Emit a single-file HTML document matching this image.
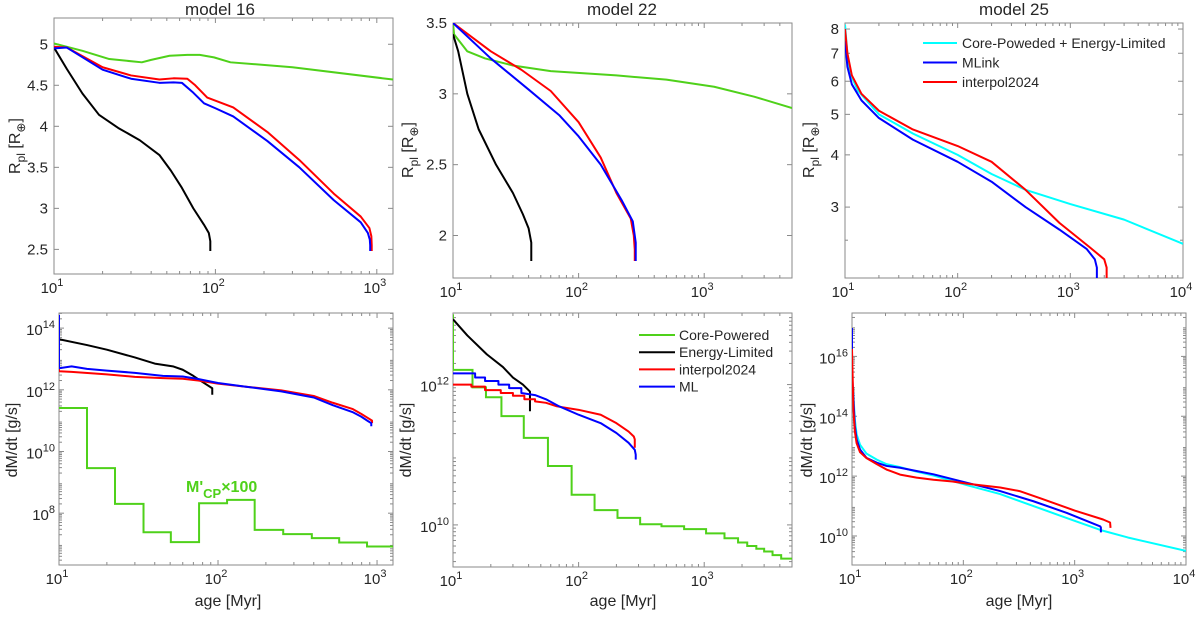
<!DOCTYPE html>
<html><head><meta charset="utf-8">
<style>
html,body{margin:0;padding:0;background:#fff;}
svg{display:block;font-family:"Liberation Sans",Arial,sans-serif;}
</style></head>
<body>
<svg id="fig" width="1200" height="619" viewBox="0 0 1200 619" xmlns="http://www.w3.org/2000/svg"></svg>
<script>
// ---------- DATA ----------
const p1GreenX=[10,15,22,35,40,52,67,80,98,124,300,1260];
const p1GreenY=[5.01,4.92,4.82,4.78,4.81,4.86,4.87,4.87,4.84,4.78,4.72,4.57];
const p1RedX=[10,12,20,30,45,55,67,75,89,129,210,331,541,795,900,925,930,930];
const p1RedY=[4.97,4.96,4.72,4.62,4.57,4.585,4.58,4.5,4.35,4.23,3.93,3.59,3.18,2.9,2.76,2.66,2.55,2.48];
const p1BlueX=[10,12,20,30,45,55,62,72,85,100,129,210,331,541,795,880,905,910,910];
const p1BlueY=[4.95,4.96,4.69,4.58,4.53,4.535,4.53,4.42,4.28,4.22,4.12,3.82,3.5,3.1,2.83,2.7,2.62,2.55,2.48];
const p1BlackX=[10,12,15,19,25,34,45,53,62,73,85,91,93,93];
const p1BlackY=[4.96,4.7,4.4,4.14,3.98,3.83,3.65,3.46,3.25,3.0,2.8,2.7,2.6,2.48];
const p2GreenX=[10,10.2,13,18,30,60,200,500,1200,2500,5000];
const p2GreenY=[3.5,3.42,3.3,3.25,3.2,3.16,3.13,3.1,3.05,2.98,2.9];
const p2RedX=[10,20,35,60,100,150,200,260,275,280,280];
const p2RedY=[3.5,3.3,3.17,3.02,2.8,2.55,2.3,2.12,2.0,1.9,1.82];
const p2BlueX=[10,20,40,70,100,150,220,270,285,285];
const p2BlueY=[3.5,3.25,3.03,2.85,2.7,2.5,2.25,2.1,1.95,1.82];
const p2BlackX=[10,11,13,16,22,30,36,40,42,42];
const p2BlackY=[3.42,3.3,3.0,2.75,2.5,2.3,2.15,2.05,1.95,1.82];
const p3CyanX=[10,10.5,11,13,20,40,100,200,400,1000,3000,10000];
const p3CyanY=[8.2,7.0,6.3,5.7,5.0,4.5,4.0,3.6,3.3,3.05,2.8,2.45];
const p3RedX=[10,10.5,11.5,14,20,40,100,200,400,800,1500,2000,2100,2100];
const p3RedY=[8.0,7.0,6.2,5.6,5.1,4.6,4.2,3.85,3.3,2.75,2.4,2.25,2.15,2.03];
const p3BlueX=[10,10.5,11.5,14,20,40,100,200,400,800,1400,1650,1720,1720];
const p3BlueY=[7.5,6.5,5.9,5.4,4.9,4.35,3.85,3.45,3.0,2.65,2.38,2.25,2.15,2.03];
const p4BlueX=[10,10,12,15,20,30,45,60,75,100,150,250,400,527,700,795,880,920,920];
const p4BlueY=[14.43,12.70,12.76,12.68,12.62,12.55,12.45,12.43,12.35,12.22,12.1,11.95,11.75,11.5,11.28,11.13,10.98,10.92,10.82];
const p4RedX=[10,10,12,20,30,45,60,75,100,150,250,400,527,700,795,880,930,930];
const p4RedY=[13.8,12.6,12.58,12.5,12.42,12.38,12.36,12.3,12.2,12.1,11.98,11.8,11.58,11.38,11.22,11.08,11.0,10.92];
const p4BlackX=[10,15,20,30,40,52,60,70,80,92,92];
const p4BlackY=[13.64,13.45,13.3,13.05,12.85,12.76,12.65,12.45,12.25,12.05,11.84];
const p4GreenEdges=[10,15,22.5,34,50.5,76,114,170,257,389,578,865,1260];
const p4GreenVals=[11.41,9.46,8.30,7.38,7.06,8.32,8.43,7.46,7.32,7.19,7.05,6.92];
const p5BlackX=[10,13,18.6,25,30,36,41,41];
const p5BlackY=[12.93,12.7,12.43,12.25,12.1,12.0,11.9,11.62];
const p5RedX=[10,14,14,18,18,24,24,30,30,37,37,45,45,55,67,100,150,200,250,275,280,280];
const p5RedY=[12.0,12.0,11.97,11.97,11.92,11.92,11.88,11.88,11.84,11.84,11.79,11.79,11.76,11.74,11.69,11.64,11.57,11.45,11.33,11.26,11.22,11.1];
const p5BlueX=[10,15,15,18,18,23,23,28,28,35,35,45,55,70,100,150,200,250,280,285,285];
const p5BlueY=[12.16,12.16,12.10,12.10,12.05,12.05,12.0,12.0,11.95,11.95,11.88,11.85,11.79,11.69,11.57,11.45,11.31,11.17,11.07,11.0,10.93];
const p5GreenStart=[13.0];
const p5GreenEdges=[10,14.3,18.3,24.3,36.6,57,88,134,204,309,457,692,1035,1450,1860,2200,2600,3000,3500,4100,5000];
const p5GreenVals=[12.21,11.96,11.82,11.55,11.24,10.84,10.43,10.21,10.10,10.01,9.98,9.94,9.88,9.81,9.75,9.70,9.66,9.62,9.57,9.52];
const p6CyanX=[10,10.3,10.6,11,11.8,13.5,16.7,20.4,27,38,54,107,214,426,850,1700,3000,10000];
const p6CyanY=[15.0,14.7,13.9,13.4,13.05,12.75,12.55,12.4,12.3,12.15,12.02,11.7,11.4,11.0,10.6,10.2,9.95,9.5];
const p6BlueX=[10,10,10.3,10.6,11,11.8,13.5,16.7,20.4,27,38,54,107,214,426,850,1700,1720,1720];
const p6BlueY=[16.95,15.5,14.57,13.68,13.23,12.89,12.61,12.45,12.34,12.28,12.17,12.06,11.78,11.5,11.16,10.77,10.32,10.28,10.12];
const p6RedX=[10,10.3,10.6,11,11.8,13.5,16.7,20.4,27,38,54,80,107,214,320,500,1000,1800,2080,2100];
const p6RedY=[16.25,14.2,13.5,13.1,12.8,12.6,12.4,12.22,12.05,11.95,11.88,11.82,11.75,11.62,11.5,11.25,10.85,10.55,10.45,10.27];
const linTicks1=[2.5,3,3.5,4,4.5,5];
const linTicks2=[2,2.5,3,3.5];
const logRTicks3=[3,4,5,6,7,8];
const expTicks4=[8,10,12,14];
const expTicks5=[10,12];
const expTicks6=[10,12,14,16];
const titles=["model 16","model 22","model 25"];
const legend3Labels=["Core-Poweded + Energy-Limited","MLink","interpol2024"];
const legend5Labels=["Core-Powered","Energy-Limited","interpol2024","ML"];

// ---------- RENDER ----------
const NS="http://www.w3.org/2000/svg";
const svg=document.getElementById('fig');
const C={green:"#4fd11a",red:"#ff0000",blue:"#0000ff",black:"#000000",cyan:"#00ffff"};
function mk(tag,attrs,parent){const e=document.createElementNS(NS,tag);for(const k in attrs)e.setAttribute(k,attrs[k]);(parent||svg).appendChild(e);return e;}

function makePanel(b){
  const lx0=Math.log10(b.x0),lx1=Math.log10(b.x1);
  const sx=v=>b.l+(Math.log10(v)-lx0)/(lx1-lx0)*(b.r-b.l);
  let sy;
  if(b.ytype==='logR'){const a=Math.log10(b.y0),c=Math.log10(b.y1);sy=v=>b.bm-(Math.log10(v)-a)/(c-a)*(b.bm-b.t);}
  else sy=v=>b.bm-(v-b.y0)/(b.y1-b.y0)*(b.bm-b.t);
  const g=mk('g',{});
  
  
  const clipId='clip_'+b.name;
  const cp=mk('clipPath',{id:clipId},g);mk('rect',{x:b.l,y:b.t,width:b.r-b.l,height:b.bm-b.t},cp);
  return {g,sx,sy,b,clipId};
}
function axes(P,xTickExps,yTicks,yFmt,minorY){
  const {g,sx,sy,b}=P;
  const ax=mk('g',{},g);
  
  
  const box=mk('rect',{x:b.l,y:b.t,width:b.r-b.l,height:b.bm-b.t,fill:'none',stroke:'#8a8a8a','stroke-width':1},ax);
  
  
  const e0=Math.floor(Math.log10(b.x0)),e1=Math.ceil(Math.log10(b.x1));
  for(let e=e0;e<=e1;e++){for(let m=1;m<10;m++){const v=m*Math.pow(10,e);if(v<b.x0-1e-9||v>b.x1+1e-9)continue;const x=sx(v);const L=m===1?5:3;
    mk('line',{x1:x,x2:x,y1:b.bm,y2:b.bm-L,stroke:'#8a8a8a'},ax);mk('line',{x1:x,x2:x,y1:b.t,y2:b.t+L,stroke:'#8a8a8a'},ax);}}
  xTickExps.forEach(e=>{const x=sx(Math.pow(10,e));const t=mk('text',{x:x-2,y:b.bm+19,'text-anchor':'middle','font-size':15,fill:'#262626'},ax);
    
    t.appendChild(document.createTextNode('10'));const s=mk('tspan',{dy:-7,'font-size':11},t);s.textContent=String(e);});
  if(minorY) minorY.forEach(v=>{const y=sy(v);mk('line',{x1:b.l,x2:b.l+3,y1:y,y2:y,stroke:'#8a8a8a'},ax);mk('line',{x1:b.r,x2:b.r-3,y1:y,y2:y,stroke:'#8a8a8a'},ax);});
  yTicks.forEach(v=>{const y=sy(v);mk('line',{x1:b.l,x2:b.l+5,y1:y,y2:y,stroke:'#8a8a8a'},ax);mk('line',{x1:b.r,x2:b.r-5,y1:y,y2:y,stroke:'#8a8a8a'},ax);
    const t=mk('text',{x:b.l-6,y:y+5,'text-anchor':'end','font-size':15,fill:'#262626'},ax);
    
    if(yFmt==='exp'){t.setAttribute('x',b.l-4);t.setAttribute('y',y+7);t.appendChild(document.createTextNode('10'));const s=mk('tspan',{dy:-7,'font-size':11},t);s.textContent=String(v);}
    else t.textContent=String(v);});
}
function line(P,xs,ys,color,name){
  const d=xs.map((x,i)=>(i?'L':'M')+P.sx(x).toFixed(2)+','+P.sy(ys[i]).toFixed(2)).join('');
  const p=mk('path',{d,fill:'none',stroke:color,'stroke-width':2,'clip-path':'url(#'+P.clipId+')','stroke-linejoin':'round'},P.g);
  
  
}
function step(P,edges,vals,color,name,start){
  let d='';
  if(start!==undefined) d='M'+P.sx(edges[0]).toFixed(2)+','+P.sy(start).toFixed(2)+'L';else d='M';
  d+=P.sx(edges[0]).toFixed(2)+','+P.sy(vals[0]).toFixed(2);
  for(let i=0;i<vals.length;i++){d+='L'+P.sx(edges[i+1]).toFixed(2)+','+P.sy(vals[i]).toFixed(2);
    if(i+1<vals.length)d+='L'+P.sx(edges[i+1]).toFixed(2)+','+P.sy(vals[i+1]).toFixed(2);}
  const p=mk('path',{d,fill:'none',stroke:color,'stroke-width':2,'clip-path':'url(#'+P.clipId+')'},P.g);
  
  
}
function text(x,y,str,attrs,name){const t=mk('text',Object.assign({x,y,fill:'#262626'},attrs));t.textContent=str;
  return t;}
function ylabelR(x,y){const t=mk('text',{x:0,y:0,'font-size':16,fill:'#262626','text-anchor':'middle',transform:`translate(${x},${y}) rotate(-90)`});
  
  t.appendChild(document.createTextNode('R'));let s=mk('tspan',{dy:5,'font-size':12},t);s.textContent='pl';
  s=mk('tspan',{dy:-5},t);s.textContent=' [R';s=mk('tspan',{dy:5,'font-size':12},t);s.textContent='⊕';s=mk('tspan',{dy:-5},t);s.textContent=']';}
function minorLog(a,b){const out=[];for(let e=Math.floor(a);e<b;e++)for(let m=2;m<10;m++){const v=e+Math.log10(m);if(v>a&&v<b)out.push(v);}return out;}

[220,622,1014].forEach((x,i)=>text(x,15,titles[i],{'text-anchor':'middle','font-size':17},'panel-title'));

const P1=makePanel({name:'panel-model16-radius',l:54,t:18,r:393,bm:274,x0:10,x1:1260,ytype:'lin',y0:2.2,y1:5.32});
axes(P1,[1,2,3],linTicks1,'lin');
line(P1,p1GreenX,p1GreenY,C.green,'core-powered-line');
line(P1,p1BlackX,p1BlackY,C.black,'energy-limited-line');
line(P1,p1RedX,p1RedY,C.red,'interpol2024-line');
line(P1,p1BlueX,p1BlueY,C.blue,'ml-line');
ylabelR(20,146);

const P2=makePanel({name:'panel-model22-radius',l:453,t:23,r:792,bm:278,x0:10,x1:5000,ytype:'lin',y0:1.70,y1:3.5});
axes(P2,[1,2,3],linTicks2,'lin');
line(P2,p2GreenX,p2GreenY,C.green,'core-powered-line');
line(P2,p2BlackX,p2BlackY,C.black,'energy-limited-line');
line(P2,p2RedX,p2RedY,C.red,'interpol2024-line');
line(P2,p2BlueX,p2BlueY,C.blue,'ml-line');
ylabelR(413,150);

const P3=makePanel({name:'panel-model25-radius',l:845,t:23,r:1183,bm:278,x0:10,x1:10000,ytype:'logR',y0:2.03,y1:8.27});
axes(P3,[1,2,3,4],logRTicks3,'lin',[2.5]);
line(P3,p3CyanX,p3CyanY,C.cyan,'cp-el-line');
line(P3,p3BlueX,p3BlueY,C.blue,'mlink-line');
line(P3,p3RedX,p3RedY,C.red,'interpol2024-line');
ylabelR(814,150);
const lg3=mk('g',{});
[C.cyan,C.blue,C.red].forEach((c,i)=>{const y=43+i*19.5;const l=mk('line',{x1:923,x2:957,y1:y,y2:y,stroke:c,'stroke-width':2},lg3);
  
  const t=mk('text',{x:962,y:y+5,'font-size':14,fill:'#262626'},lg3);t.textContent=legend3Labels[i];
  });

const P4=makePanel({name:'panel-model16-massloss',l:59,t:313,r:393,bm:565,x0:10,x1:1260,ytype:'exp',y0:6.32,y1:14.49});
axes(P4,[1,2,3],expTicks4,'exp',minorLog(6.32,14.49));
step(P4,p4GreenEdges,p4GreenVals,C.green,'core-powered-x100-steps');
line(P4,p4BlackX,p4BlackY,C.black,'energy-limited-line');
line(P4,p4RedX,p4RedY,C.red,'interpol2024-line');
line(P4,p4BlueX,p4BlueY,C.blue,'ml-line');
const ann=text(186,492,"M'",{'font-size':16,'font-weight':'bold',fill:C.green},'cp-x100-annotation');
let s=mk('tspan',{dy:6,'font-size':13},ann);s.textContent='CP';s=mk('tspan',{dy:-6},ann);s.textContent='×100';
text(0,0,'dM/dt [g/s]',{'font-size':16,'text-anchor':'middle',transform:'translate(17,440) rotate(-90)'},'y-axis-title');
text(228,606,'age [Myr]',{'font-size':16,'text-anchor':'middle'},'x-axis-title');

const P5=makePanel({name:'panel-model22-massloss',l:453,t:313,r:792,bm:567,x0:10,x1:5000,ytype:'exp',y0:9.40,y1:13.02});
axes(P5,[1,2,3],expTicks5,'exp',minorLog(9.40,13.02));
step(P5,p5GreenEdges,p5GreenVals,C.green,'core-powered-steps',p5GreenStart[0]);
line(P5,p5BlackX,p5BlackY,C.black,'energy-limited-line');
line(P5,p5RedX,p5RedY,C.red,'interpol2024-line');
line(P5,p5BlueX,p5BlueY,C.blue,'ml-line');
text(0,0,'dM/dt [g/s]',{'font-size':16,'text-anchor':'middle',transform:'translate(411,440) rotate(-90)'},'y-axis-title');
text(623,606,'age [Myr]',{'font-size':16,'text-anchor':'middle'},'x-axis-title');
const lg5=mk('g',{});
[C.green,C.black,C.red,C.blue].forEach((c,i)=>{const y=335+i*17.2;const l=mk('line',{x1:639,x2:675,y1:y,y2:y,stroke:c,'stroke-width':2},lg5);
  
  const t=mk('text',{x:679,y:y+5,'font-size':14,fill:'#262626'},lg5);t.textContent=legend5Labels[i];
  });

const P6=makePanel({name:'panel-model25-massloss',l:852,t:313,r:1186,bm:565,x0:10,x1:10000,ytype:'exp',y0:9.03,y1:17.45});
axes(P6,[1,2,3,4],expTicks6,'exp',minorLog(9.03,17.45));
line(P6,p6CyanX,p6CyanY,C.cyan,'cp-el-line');
line(P6,p6BlueX,p6BlueY,C.blue,'mlink-line');
line(P6,p6RedX,p6RedY,C.red,'interpol2024-line');
text(0,0,'dM/dt [g/s]',{'font-size':16,'text-anchor':'middle',transform:'translate(812,440) rotate(-90)'},'y-axis-title');
text(1019,606,'age [Myr]',{'font-size':16,'text-anchor':'middle'},'x-axis-title');
</script>
</body></html>
